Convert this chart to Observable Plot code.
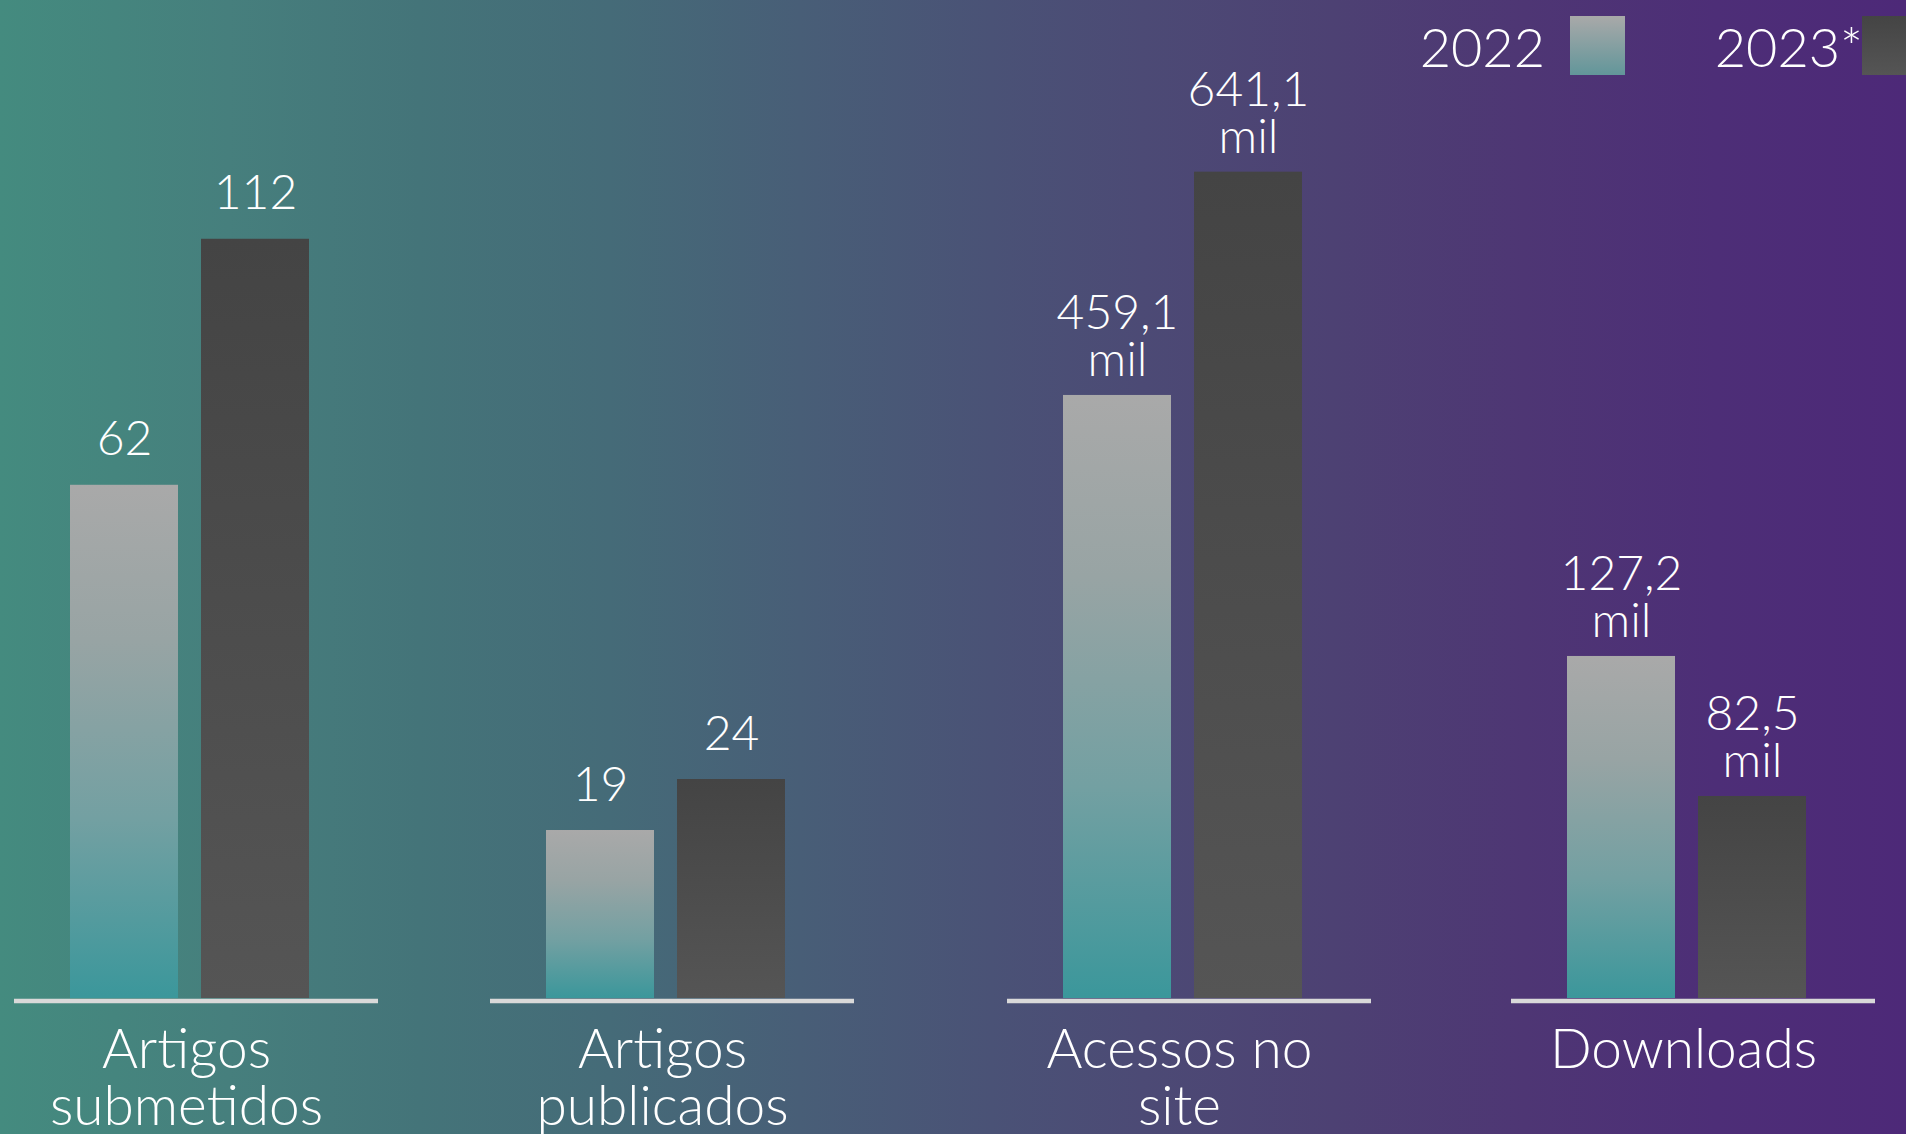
<!DOCTYPE html>
<html>
<head>
<meta charset="utf-8">
<script src="https://cdn.jsdelivr.net/npm/d3@7"></script>
<script src="https://cdn.jsdelivr.net/npm/@observablehq/plot@0.6"></script>
<style>
  html, body { margin: 0; padding: 0; }
  #stage {
    position: relative; width: 1906px; height: 1134px; overflow: hidden;
    background: linear-gradient(to right, #448b7f 0%, #467f7d 12%, #447479 22%, #456b78 32%, #485e77 42%, #4a5276 52%, #4c4a75 60%, #4d4173 70%, #4e3674 80%, #4d2e77 90%, #4d2978 100%);
    font-family: Lato, "Open Sans", sans-serif; font-weight: 300; color: #fff;
  }
  .panel { position: absolute; top: 0; }
  .panel svg { overflow: visible; }
  .lg-text { position: absolute; font-size: 54px; font-weight: 300; line-height: 1; white-space: nowrap; text-align: right; }
  .lg-sw { position: absolute; width: 55px; height: 59px; }
</style>
</head>
<body>
<div id="stage"></div>
<script>
// ---- data ----
const categories = ["Artigos\nsubmetidos", "Artigos\npublicados", "Acessos no\nsite", "Downloads"];
const seriesKeys = ["2022", "2023"];
const legendLabels = ["2022", "2023*"];
const values2022 = [62, 19, 459.1, 127.2];
const values2023 = [112, 24, 641.1, 82.5];
const units = ["", "", "mil", "mil"];

// ---- per-panel scale/layout config ----
const yDomains = [[-42.3, 140.2], [2.53, 90.57], [-32.4, 699.5], [18.0, 304.7]];
const panelLefts = [4, 480, 997, 1501];
const gradients = {
  "2022": [["0%", "#a9a9a9"], ["30%", "#98a4a4"], ["65%", "#73a0a2"], ["100%", "#3b979b"]],
  "2023": [["0%", "#444444"], ["100%", "#555555"]]
};

const stage = document.getElementById("stage");
const ns = "http://www.w3.org/2000/svg";

function defsMark(idx) {
  return () => {
    const defs = document.createElementNS(ns, "defs");
    for (const key of seriesKeys) {
      const g = document.createElementNS(ns, "linearGradient");
      g.setAttribute("id", `g${key}-${idx}`);
      g.setAttribute("x1", "0"); g.setAttribute("y1", "0");
      g.setAttribute("x2", "0"); g.setAttribute("y2", "1");
      for (const [off, col] of gradients[key]) {
        const s = document.createElementNS(ns, "stop");
        s.setAttribute("offset", off); s.setAttribute("stop-color", col);
        g.appendChild(s);
      }
      defs.appendChild(g);
    }
    return defs;
  };
}

function fmt(v, unit) {
  const s = String(v).replace(".", ",");
  return unit ? `${s}\n${unit}` : s;
}

categories.forEach((cat, i) => {
  const rows = [
    {year: "2022", value: values2022[i], label: fmt(values2022[i], units[i])},
    {year: "2023", value: values2023[i], label: fmt(values2023[i], units[i])}
  ];
  const yDom = yDomains[i];
  const chart = Plot.plot({
    width: 384, height: 1134,
    marginLeft: 10, marginRight: 10, marginTop: 100, marginBottom: 136,
    x: {domain: seriesKeys, paddingInner: 0.176, paddingOuter: 0.477, align: 0.45, axis: null},
    y: {domain: yDom, axis: null},
    style: {background: "transparent", overflow: "visible", fontFamily: "Lato, 'Open Sans', sans-serif"},
    marks: [
      defsMark(i),
      Plot.barY(rows.filter(d => d.year === "2022"), {x: "year", y1: yDom[0], y2: "value", fill: `url(#g2022-${i})`}),
      Plot.barY(rows.filter(d => d.year === "2023"), {x: "year", y1: yDom[0], y2: "value", fill: `url(#g2023-${i})`}),
      Plot.ruleY([yDom[0]], {stroke: "#d9d9d9", strokeWidth: 4.5, dy: 2.5}),
      Plot.text(rows, {x: "year", y: "value", text: "label", lineAnchor: "bottom",
        dy: units[i] ? -19 : -30, fill: "white", fontSize: 48, fontWeight: 300, lineHeight: 0.98}),
      Plot.text([cat], {frameAnchor: "bottom", text: d => d, lineAnchor: "top", dy: 29, dx: -10,
        fill: "white", fontSize: 55, fontWeight: 300, lineHeight: 1.04})
    ]
  });
  const div = document.createElement("div");
  div.className = "panel";
  div.style.left = panelLefts[i] + "px";
  div.appendChild(chart);
  stage.appendChild(div);
});

// ---- legend ----
const legendSwatchLeft = [1570, 1862];
const legendTextRight = [1545, 1863];
legendLabels.forEach((lab, k) => {
  const t = document.createElement("div");
  t.className = "lg-text";
  t.textContent = lab;
  t.style.right = (1906 - legendTextRight[k]) + "px";
  t.style.top = "20px";
  stage.appendChild(t);
  const s = document.createElement("div");
  s.className = "lg-sw";
  s.style.left = legendSwatchLeft[k] + "px";
  s.style.top = "16px";
  const stops = k === 0 ? "#a9a9a9, #62969a" : "#444444, #555555";
  s.style.background = `linear-gradient(to bottom, ${stops})`;
  stage.appendChild(s);
});
</script>
</body>
</html>
